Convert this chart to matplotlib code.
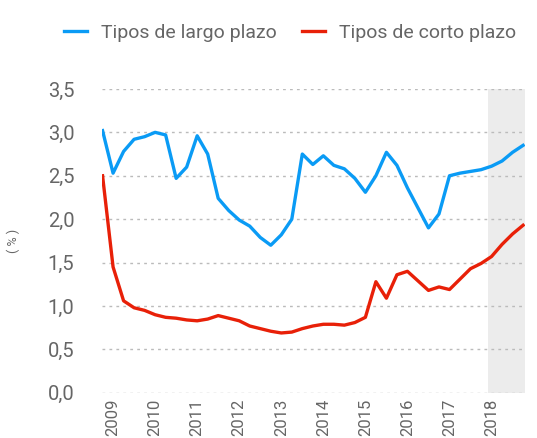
import numpy as np
import matplotlib
matplotlib.use('Agg')
import matplotlib.pyplot as plt

# Datos trimestrales, 4T 2008 - 4T 2018
largo = [3.02, 2.53, 2.78, 2.92, 2.95, 3.00, 2.97, 2.47, 2.60, 2.96,
         2.75, 2.24, 2.10, 1.99, 1.92, 1.79, 1.70, 1.82, 2.00, 2.75,
         2.63, 2.73, 2.62, 2.58, 2.47, 2.31, 2.50, 2.77, 2.62, 2.36,
         2.13, 1.90, 2.06, 2.50, 2.53, 2.55, 2.57, 2.61, 2.67, 2.77,
         2.85]
corto = [2.50, 1.45, 1.06, 0.98, 0.95, 0.90, 0.87, 0.86, 0.84, 0.83,
         0.85, 0.89, 0.86, 0.83, 0.77, 0.74, 0.71, 0.69, 0.70, 0.74,
         0.77, 0.79, 0.79, 0.78, 0.81, 0.87, 1.28, 1.09, 1.36, 1.40,
         1.29, 1.18, 1.22, 1.19, 1.31, 1.43, 1.49, 1.57, 1.71, 1.83,
         1.93]
years = ['2009', '2010', '2011', '2012', '2013', '2014', '2015', '2016', '2017', '2018']
yticks = [0.0, 0.5, 1.0, 1.5, 2.0, 2.5, 3.0, 3.5]

plt.rcParams['font.family'] = ['Roboto', 'DejaVu Sans']
grey = '#666666'

fig = plt.figure(figsize=(5.37, 4.38), dpi=100)
ax = fig.add_axes([0.19, 0.103, 0.788, 0.694])

x = np.arange(len(largo))
ax.axvspan(36.7, 40.2, color='#ececec', zorder=0, lw=0)
ax.plot(x, largo, color='#0a9bf5', lw=2.4, label='Tipos de largo plazo', zorder=3)
ax.plot(x, corto, color='#e82008', lw=2.4, label='Tipos de corto plazo', zorder=3)

ax.set_xlim(-0.05, 40.2)
ax.set_ylim(0, 3.5)
ax.set_yticks(yticks)
ax.set_yticklabels([f'{v:.1f}'.replace('.', ',') for v in yticks], fontsize=14.5, color=grey)
ax.set_xticks([1 + 4 * i for i in range(len(years))])
ax.set_xticklabels(years, rotation=90, fontsize=12, color=grey)
ax.tick_params(axis='y', length=0, pad=20)
ax.tick_params(axis='x', length=0, pad=4)
ax.grid(axis='y', linestyle=(0, (2, 3)), color='#bbbbbb', lw=1)
ax.set_axisbelow(True)
for s in ax.spines.values():
    s.set_visible(False)
ax.set_ylabel('( % )', fontsize=9, color=grey, labelpad=20)

fig.legend(loc='upper center', bbox_to_anchor=(0.54, 0.985), ncol=2, frameon=False,
           fontsize=14, labelcolor=grey, handlelength=1.2, handletextpad=0.7,
           columnspacing=1.3)

fig.savefig('out.png', dpi=100)
